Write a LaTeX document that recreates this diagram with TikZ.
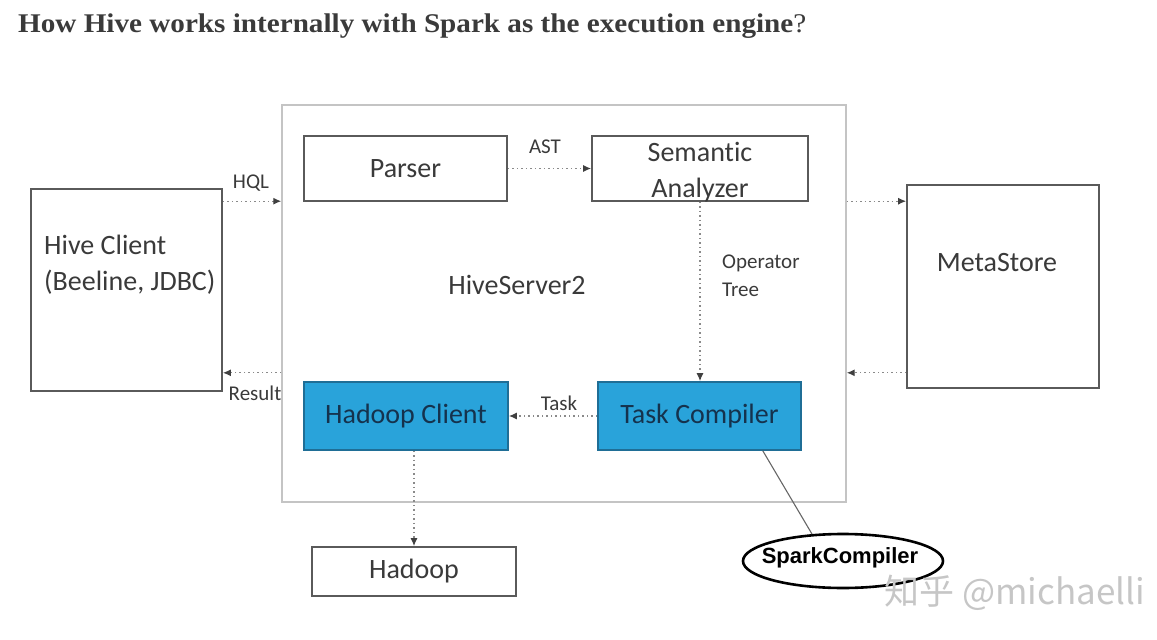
\documentclass[tikz,border=0pt]{standalone}
\usepackage{fontspec}
\setmainfont{Carlito}[Ligatures=NoCommon]
\newfontfamily\titlefont{Liberation Serif}
\newfontfamily\arialfont{Liberation Sans}
\newfontfamily\cjkfont{Noto Sans CJK SC}
\usetikzlibrary{shapes.geometric,arrows.meta}
\definecolor{txt}{HTML}{3A3A3A}
\definecolor{boxline}{HTML}{5A5A5A}
\definecolor{outerline}{HTML}{C4C4C4}
\definecolor{bluefill}{HTML}{29A3DA}
\definecolor{blueline}{HTML}{1F6E96}
\definecolor{navy}{HTML}{15324D}
\definecolor{dotc}{HTML}{8A8A8A}
\definecolor{wm}{HTML}{C6C6C6}
\begin{document}
\begin{tikzpicture}[x=1pt,y=-1pt,
 box/.style={draw=boxline, line width=1.6pt, fill=white, inner sep=0pt, text=txt, font=\fontsize{28}{36}\selectfont},
 bluebox/.style={box, fill=bluefill, draw=blueline, text=navy},
 lbl/.style={text=txt, font=\fontsize{21}{28}\selectfont, inner sep=0pt},
 flow/.style={draw=dotc, line width=1.3pt, dash pattern=on 1.5pt off 3pt, -{Latex[length=8pt,width=7pt,color=black!75]}},
]
\useasboundingbox (0,0) rectangle (1157,640);

\node[anchor=base west, inner sep=0pt, text=txt] (title) at (18,32)
  {\scalebox{1.08}[1]{\titlefont\fontsize{27}{32}\selectfont\bfseries How Hive works internally with Spark as the execution engine\mdseries?}};

% HiveServer2 container
\node[draw=outerline, line width=1.4pt, minimum width=564pt, minimum height=397pt, inner sep=0pt] (hs2) at (564,303.5) {};
\node[text=txt, inner sep=0pt, font=\fontsize{28}{34}\selectfont] (hs2label) at (517,285) {HiveServer2};

% inner boxes
\node[box, minimum width=203pt, minimum height=65pt] (parser) at (405.5,168.5) {Parser};
\node[box, minimum width=216pt, minimum height=65pt] (sem) at (700,168.5) {};
\node[text=txt, inner sep=0pt, align=center, font=\fontsize{28}{36}\selectfont] (semtext) at (700,172) {Semantic\\Analyzer};
\node[bluebox, minimum width=204pt, minimum height=68pt] (hcl) at (406,416) {Hadoop Client};
\node[bluebox, minimum width=203pt, minimum height=68pt] (tc) at (699.5,416) {Task Compiler};

% outside boxes
\node[box, minimum width=191pt, minimum height=202pt] (hc) at (126.5,290) {};
\node[text=txt, inner sep=0pt, anchor=west, align=left, font=\fontsize{28}{36}\selectfont] (hctext) at (44,265) {Hive Client\\(Beeline, JDBC)};
\node[box, minimum width=192pt, minimum height=203pt] (ms) at (1003,286.5) {};
\node[text=txt, inner sep=0pt, font=\fontsize{28}{34}\selectfont] (mstext) at (997,263) {MetaStore};
\node[box, minimum width=204pt, minimum height=49pt] (hadoop) at (414,571.5) {Hadoop};

% SparkCompiler ellipse
\node[ellipse, draw=black, line width=2.6pt, fill=white, minimum width=200pt, minimum height=54pt, inner sep=0pt] (sc) at (843,561) {};
\node[inner sep=0pt, font=\arialfont\bfseries\fontsize{22}{26}\selectfont] (sctext) at (840,558) {SparkCompiler};
\coordinate (tcfoot) at ([xshift=-39pt]tc.south east);
\draw[draw=black!60, line width=1.1pt] (tcfoot) -- (sc.139);

% flows
\coordinate (hqlA) at ([yshift=-13pt]hc.north east);
\draw[flow] (hqlA) -- (hqlA -| hs2.west);
\node[lbl] (hql) at (251,183) {HQL};

\coordinate (resA) at ([yshift=19pt]hc.south east);
\draw[flow] (resA -| hs2.west) -- (resA);
\node[lbl] (res) at (255,393) {Result};

\draw[flow] (parser.east) -- (sem.west |- parser.east);
\node[lbl] (ast) at (545,147) {AST};

\draw[flow] (sem.south) -- (sem.south |- tc.north);
\node[lbl, anchor=west, align=left] (optree) at (722,276) {Operator\\Tree};

\draw[flow] (tc.west) -- (hcl.east);
\node[lbl] (task) at (559,403) {Task};

\draw[flow] (hadoop.north |- hcl.south) -- (hadoop.north);

\coordinate (msA) at ([yshift=-17pt]ms.north west);
\draw[flow] (msA -| hs2.east) -- (msA);
\coordinate (msB) at ([yshift=16pt]ms.south west);
\draw[flow] (msB) -- (msB -| hs2.east);

% watermark
\node[anchor=west, text=wm, inner sep=0pt, font=\cjkfont\fontsize{35}{35}\selectfont] (wmk) at (884,593) {知乎\hspace{8pt}@michaelli};
\end{tikzpicture}
\end{document}
